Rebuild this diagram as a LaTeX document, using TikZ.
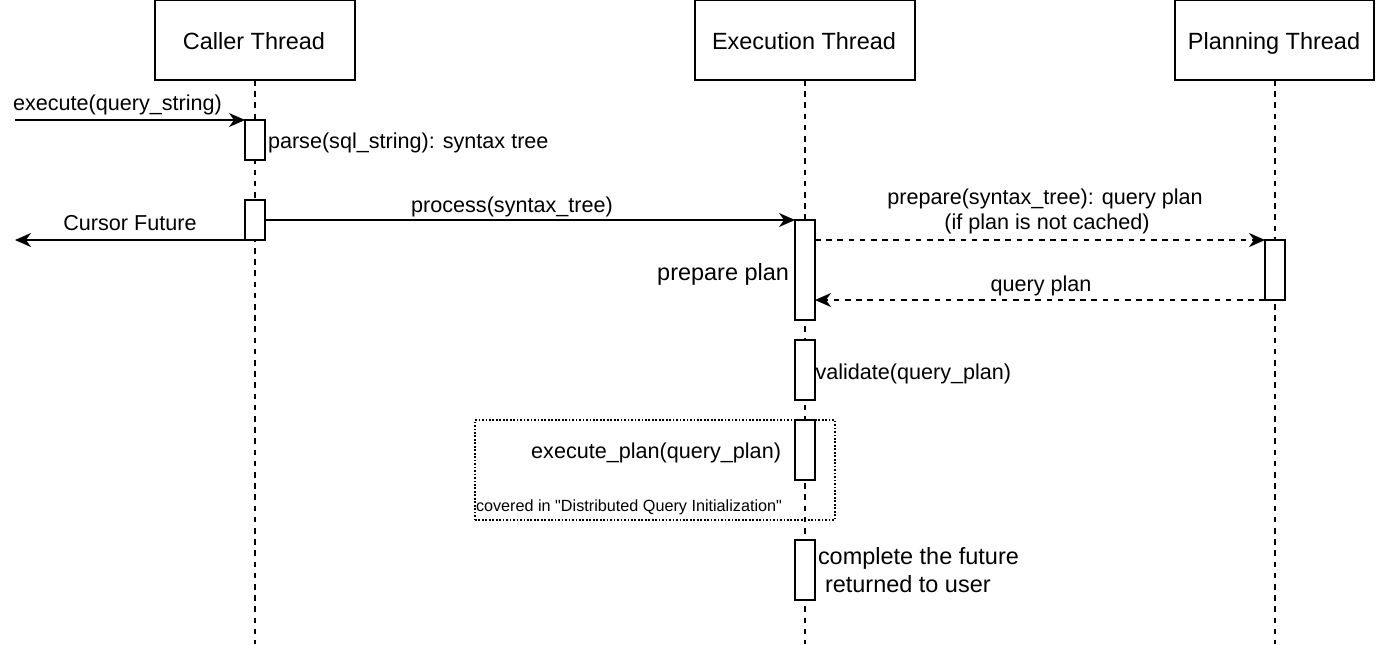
\documentclass[tikz,border=0pt]{standalone}
\usepackage{fontspec}
\setmainfont{Liberation Sans}[Ligatures=TeXOff]
\usetikzlibrary{arrows.meta}
\begin{document}
\begin{tikzpicture}[x=0.75pt,y=-0.75pt,
  every node/.style={inner sep=0pt,outer sep=0pt},
  lw/.style={line width=1.4pt},
  head/.style={draw,lw,fill=white,minimum width=150pt,minimum height=60pt},
  act/.style={draw,lw,fill=white,minimum width=15pt},
  life/.style={lw,dash pattern=on 4.2pt off 4.2pt},
  msg/.style={lw,-{Stealth[length=12pt,width=10.5pt,inset=3.8pt]}},
  dmsg/.style={msg,dash pattern=on 4.2pt off 4.2pt},
  lbl/.style={font=\fontsize{16.2}{19}\selectfont,anchor=base},
  biglbl/.style={font=\fontsize{17.6}{21}\selectfont,anchor=base},
  smalllbl/.style={font=\fontsize{12.15}{14}\selectfont,anchor=base west},
  frame/.style={line width=1.3pt,dash pattern=on 1.3pt off 1.3pt}
]
\useasboundingbox (0,0) rectangle (1376,644);

% lifeline heads
\node[head,minimum width=150pt] (caller) at (255,40) {};
\node[head,minimum width=165pt] (exec) at (805,40) {};
\node[head,minimum width=149pt] (plan) at (1274.5,40) {};
\node[biglbl] at (254,49) {Caller Thread};
\node[biglbl] at (804,49) {Execution Thread};
\node[biglbl] at (1274,49) {Planning Thread};

% lifeline ends
\coordinate (callerEnd) at (255,644);
\coordinate (execEnd) at (805,644);
\coordinate (planEnd) at (1275,644);
\draw[life] (caller.south) -- (callerEnd);
\draw[life] (exec.south) -- (execEnd);
\draw[life] (plan.south -| planEnd) -- (planEnd);

% dotted frame
\node[draw,frame,minimum width=270pt,minimum height=75pt] (fr) at (655,470) {};

% activations
\node[act,minimum height=30pt] (c1) at (255,140) {};
\node[act,minimum height=30pt] (c2) at (255,220) {};
\node[act,minimum height=75pt] (e1) at (805,270) {};
\node[act,minimum height=45pt] (p1) at (1275,270) {};
\node[act,minimum height=45pt] (e2) at (805,370) {};
\node[act,minimum height=45pt] (e3) at (805,450) {};
\node[act,minimum height=45pt] (e4) at (805,570) {};

% free ends
\coordinate (inStart) at (15,120);
\coordinate (outEnd) at (15,240);

% messages
\draw[msg] (inStart) -- (c1.north west);
\draw[msg] (c2.south west) -- (outEnd);
\draw[msg,line width=1.15pt] (c2.east) -- (e1.north west);
\draw[dmsg] (e1.east |- p1.north west) -- (p1.north west);
\draw[dmsg] (p1.south west) -- (e1.east |- p1.south west);

% labels
\node[lbl,anchor=base west] at (13,110) {execute(query\_string)};
\node[lbl,anchor=base west] at (268,148) {parse(sql\_string): syntax tree};
\node[lbl] at (130,230) {Cursor Future};
\node[lbl] at (512,212) {process(syntax\_tree)};
\node[lbl] at (1045,204) {prepare(syntax\_tree): query plan};
\node[lbl] at (1047,229) {(if plan is not cached)};
\node[lbl] at (1041,291) {query plan};
\node[biglbl,anchor=base east] at (789,280) {prepare plan};
\node[lbl,anchor=base west] at (815.5,379) {validate(query\_plan)};
\node[lbl,anchor=base east] at (781,458) {execute\_plan(query\_plan)};
\node[smalllbl] at (476,511) {covered in "Distributed Query Initialization"};
\node[biglbl,anchor=base west] at (818,564) {complete the future};
\node[biglbl,anchor=base west] at (825,592) {returned to user};
\end{tikzpicture}
\end{document}
